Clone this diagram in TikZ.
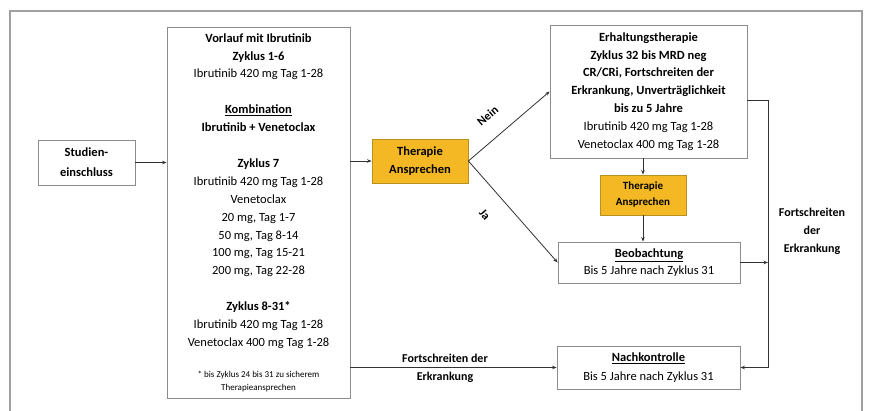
\documentclass[tikz,border=0pt]{standalone}
\usepackage{fontspec}
\setmainfont{Carlito}
\usetikzlibrary{arrows.meta}
\definecolor{goldfill}{RGB}{243,184,36}
\definecolor{goldedge}{RGB}{185,145,30}
\definecolor{framegray}{RGB}{160,160,160}
\definecolor{boxgray}{RGB}{140,140,140}
\definecolor{linegray}{RGB}{50,50,50}
\begin{document}
\begin{tikzpicture}[x=1pt,y=-1pt,
 box/.style={draw=boxgray, line width=0.8pt, fill=white, inner sep=0pt, align=center, font=\fontsize{12.5}{17.9}\selectfont},
 goldbox/.style={draw=goldedge, fill=goldfill, line width=0.8pt, inner sep=0pt, align=center, font=\bfseries\fontsize{12.5}{18}\selectfont},
 conn/.style={draw=linegray, line width=0.8pt},
 arr/.style={conn, -{Stealth[length=4.5pt,width=3.5pt]}},
 lab/.style={font=\bfseries\fontsize{12}{18}\selectfont, align=center, inner sep=0pt}]
\useasboundingbox (0,0) rectangle (870,410);
\fill[white] (0,0) rectangle (870,410);
\draw[framegray, line width=1.5pt] (10,411) -- (10,11) -- (862,11) -- (862,411);

\node[box, minimum width=97pt, minimum height=45pt, font=\bfseries\fontsize{12.5}{20}\selectfont] (stud) at (86.5,162.5) {Studien-\\einschluss};

\node[box, minimum width=183pt, minimum height=371pt] (main) at (258.5,212.5) {\textbf{Vorlauf mit Ibrutinib}\\\textbf{Zyklus 1-6}\\Ibrutinib 420 mg Tag 1-28\\[17.9pt]\textbf{\underline{Kombination}}\\\textbf{Ibrutinib + Venetoclax}\\[17.9pt]\textbf{Zyklus 7}\\Ibrutinib 420 mg Tag 1-28\\Venetoclax\\20 mg, Tag 1-7\\50 mg, Tag 8-14\\100 mg, Tag 15-21\\200 mg, Tag 22-28\\[17.9pt]\textbf{Zyklus 8-31*}\\Ibrutinib 420 mg Tag 1-28\\Venetoclax 400 mg Tag 1-28\\[13pt]\fontsize{9}{14}\selectfont * bis Zyklus 24 bis 31 zu sicherem\\[-5pt]\fontsize{9}{14}\selectfont Therapieansprechen};

\node[goldbox, minimum width=96pt, minimum height=44pt] (ta1) at (420,161) {Therapie\\Ansprechen};

\node[box, minimum width=197pt, minimum height=133pt] (erh) at (648.5,91.5) {\textbf{Erhaltungstherapie}\\\textbf{Zyklus 32 bis MRD neg}\\\textbf{CR/CRi, Fortschreiten der}\\\textbf{Erkrankung, Unverträglichkeit}\\\textbf{bis zu 5 Jahre}\\Ibrutinib 420 mg Tag 1-28\\Venetoclax 400 mg Tag 1-28};

\node[goldbox, minimum width=86pt, minimum height=40pt, font=\bfseries\fontsize{11}{16}\selectfont] (ta2) at (643,195) {Therapie\\Ansprechen};

\node[box, minimum width=182pt, minimum height=41pt, font=\fontsize{12.5}{16.5}\selectfont] (beob) at (649,262.5) {\textbf{\underline{Beobachtung}}\\Bis 5 Jahre nach Zyklus 31};

\node[box, minimum width=183pt, minimum height=43pt, font=\fontsize{12.5}{19}\selectfont] (nach) at (648.5,367.5) {\textbf{\underline{Nachkontrolle}}\\Bis 5 Jahre nach Zyklus 31};

\coordinate (rt) at (768,100);
\coordinate (rb) at (768,367.5);

\draw[arr] (stud.east) -- (stud.east -| main.west);
\draw[arr] (main.east |- ta1.west) -- (ta1.west);
\draw[arr] (ta1.east) -- node[lab, sloped, pos=0.41, above=17pt] (nein) {Nein} (erh.west);
\draw[arr] (ta1.east) -- node[lab, sloped, pos=0.38, below=19pt] (ja) {Ja} (beob.west);
\draw[arr] (ta2.north |- erh.south) -- (ta2.north);
\draw[arr] (ta2.south) -- (ta2.south |- beob.north);
\draw[arr] (main.east |- nach.west) -- (nach.west);
\draw[arr] (erh.east |- rt) -- (rt) -- (rb) -- (nach.east);
\draw[arr] (beob.east) -- (beob.east -| rt);

\node[lab] (fd1) at (445,358) {Fortschreiten der};
\node[lab] (fd2) at (445,377) {Erkrankung};
\node[lab] (fort) at (812,231) {Fortschreiten\\der\\Erkrankung};
\end{tikzpicture}
\end{document}
